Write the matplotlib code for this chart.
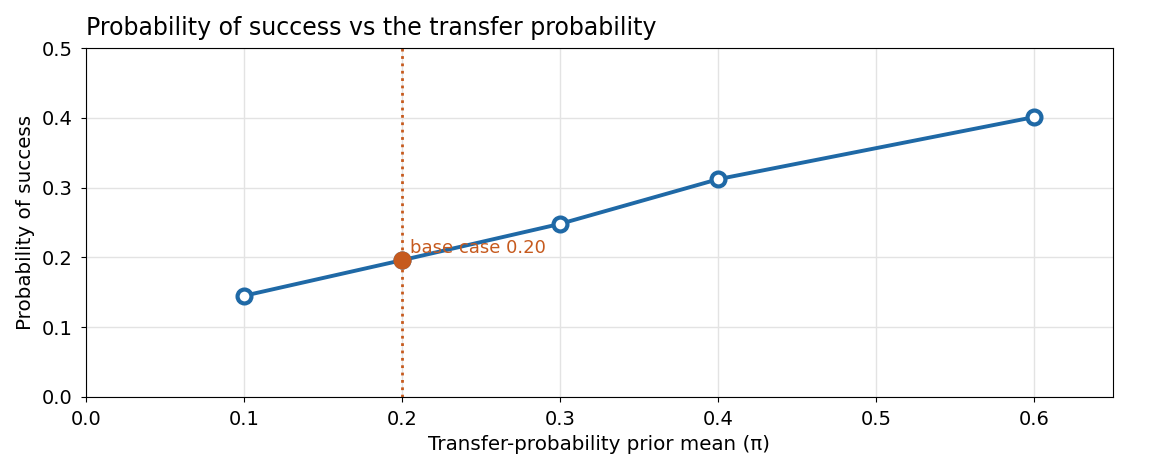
import matplotlib
matplotlib.use("Agg")
import matplotlib.pyplot as plt

pi_values = [0.1, 0.2, 0.3, 0.4, 0.6]
p_success = [0.145, 0.196, 0.248, 0.312, 0.401]
base_pi = 0.2
base_p = 0.196

blue = "#1f69a6"
orange = "#c65a1e"

fig = plt.figure(figsize=(11.5, 4.66), dpi=100)
ax = fig.add_axes([86/1150, 1-397/466, (1113-86)/1150, (397-48)/466])

ax.grid(True, color="#e3e3e3", linewidth=1)
ax.set_axisbelow(True)
ax.plot(pi_values, p_success, color=blue, linewidth=2.8, marker="o", markersize=10,
        markerfacecolor="white", markeredgecolor=blue, markeredgewidth=3, zorder=3)
ax.axvline(base_pi, color=orange, linestyle=":", linewidth=2, zorder=2)
ax.plot([base_pi], [base_p], marker="o", markersize=12, color=orange, linestyle="none", zorder=4)
ax.text(base_pi + 0.005, base_p + 0.005, "base case 0.20", color=orange, fontsize=13,
        va="bottom", ha="left", zorder=5)

ax.set_xlim(0.0, 0.65)
ax.set_ylim(0.0, 0.5)
ax.set_xticks([0.0, 0.1, 0.2, 0.3, 0.4, 0.5, 0.6])
ax.set_yticks([0.0, 0.1, 0.2, 0.3, 0.4, 0.5])
ax.tick_params(labelsize=14, pad=6)
ax.set_xlabel("Transfer-probability prior mean (π)", fontsize=14.3, labelpad=4)
ax.set_ylabel("Probability of success", fontsize=14.3, labelpad=5)
ax.set_title("Probability of success vs the transfer probability", fontsize=17, loc="left", pad=9)

fig.savefig("out.png", dpi=100)
